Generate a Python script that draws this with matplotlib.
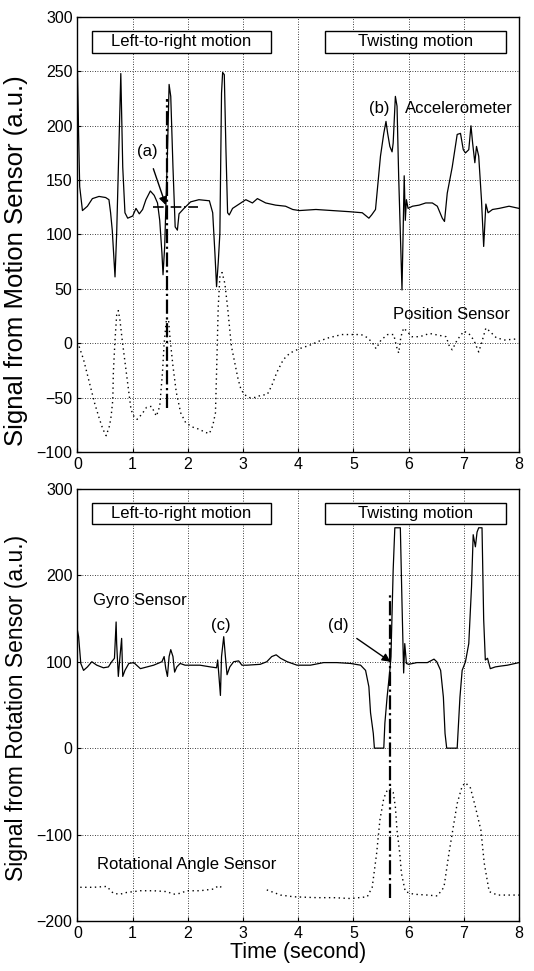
import numpy as np
import matplotlib
matplotlib.use("Agg")
import matplotlib.pyplot as plt
from matplotlib.patches import Rectangle

plt.rcParams['font.family'] = ['Liberation Sans', 'DejaVu Sans']

# accelerometer (top panel, solid)
acc_t = [0, 0.02, 0.04, 0.09, 0.18, 0.27, 0.39, 0.51, 0.57, 0.60, 0.63, 0.68, 0.71, 0.785, 0.82, 0.86, 0.91,
         1.0, 1.06, 1.12, 1.18, 1.24, 1.32, 1.39, 1.45, 1.49, 1.53, 1.55, 1.58, 1.63, 1.66, 1.69, 1.73, 1.77,
         1.81, 1.84, 1.93, 2.05, 2.2, 2.39, 2.45, 2.49, 2.52, 2.55, 2.58, 2.61, 2.63, 2.66, 2.69, 2.72, 2.75,
         2.81, 2.93, 3.05, 3.17, 3.26, 3.41, 3.59, 3.77, 3.9, 4.02, 4.32, 4.62, 4.92, 5.16, 5.28, 5.33, 5.4,
         5.49, 5.55, 5.59, 5.62, 5.66, 5.70, 5.72, 5.76, 5.79, 5.82, 5.85, 5.88, 5.90, 5.92, 5.94, 5.96, 5.99,
         6.07, 6.19, 6.31, 6.43, 6.52, 6.61, 6.65, 6.7, 6.79, 6.88, 6.94, 6.99, 7.03, 7.09, 7.13, 7.16, 7.2,
         7.23, 7.27, 7.32, 7.36, 7.40, 7.44, 7.52, 7.64, 7.82, 8.0]
acc_v = [250, 193, 144, 122, 126, 133, 135, 134, 132, 120, 104, 61, 101, 248, 162, 120, 115,
         117, 124, 119, 123, 132, 140, 136, 129, 113, 83, 63, 89, 175, 238, 227, 162, 107,
         104, 119, 124, 130, 132, 131, 120, 83, 52, 74, 101, 230, 249, 247, 178, 120, 118,
         124, 128, 132, 129, 133, 129, 127, 126, 123, 122, 123, 122, 121, 120, 115, 118, 123,
         172, 193, 204, 193, 181, 176, 184, 227, 218, 153, 101, 49, 101, 154, 113, 132, 124,
         126, 127, 129, 129, 126, 115, 112, 138, 162, 192, 193, 178, 175, 178, 200, 184, 166,
         181, 172, 132, 89, 128, 120, 123, 124, 126, 124]

# position sensor (top panel, dotted)
pos_t = [0.03, 0.11, 0.2, 0.31, 0.4, 0.46, 0.52, 0.58, 0.61, 0.64, 0.65, 0.68, 0.71, 0.74, 0.77, 0.81, 0.84,
         0.87, 0.9, 0.93, 0.97, 1.02, 1.08, 1.17, 1.25, 1.34, 1.43, 1.49, 1.54, 1.57, 1.61, 1.65, 1.68, 1.73,
         1.79, 1.87, 1.96, 2.08, 2.2, 2.32, 2.39, 2.45, 2.5, 2.52, 2.55, 2.58, 2.62, 2.67, 2.72, 2.76, 2.79,
         2.85, 2.91, 2.96, 3.02, 3.11, 3.2, 3.32, 3.44, 3.52, 3.61, 3.73, 3.85, 4.02, 4.2, 4.38, 4.55, 4.79,
         4.97, 5.14, 5.26, 5.35, 5.41, 5.5, 5.62, 5.73, 5.78, 5.82, 5.86, 5.91, 5.97, 6.06, 6.2, 6.38, 6.68,
         6.74, 6.79, 6.88, 7.0, 7.09, 7.18, 7.27, 7.32, 7.4, 7.47, 7.59, 7.74, 7.97]
pos_v = [-3, -15, -33, -55, -70, -79, -85, -76, -67, -52, -27, 3, 26, 30, 21, 3, -9,
         -21, -33, -45, -61, -67, -70, -65, -59, -58, -67, -58, -27, 0, 21, 21, 3, -21,
         -45, -64, -73, -77, -79, -82, -83, -76, -64, -27, 33, 61, 65, 55, 33, 12, -3,
         -18, -33, -42, -47, -50, -50, -48, -47, -39, -27, -15, -9, -5, -2, 2, 5, 8,
         8, 8, 5, 0, -5, 3, 8, 8, -3, -9, 6, 14, 11, 6, 6, 9, 6,
         -3, -6, 3, 11, 9, 3, -8, 0, 14, 11, 5, 3, 4]

# gyro sensor (bottom panel, solid)
gyro_t = [0, 0.02, 0.06, 0.11, 0.18, 0.26, 0.35, 0.47, 0.56, 0.62, 0.67, 0.70, 0.71, 0.74, 0.77, 0.80, 0.82,
          0.86, 0.93, 1.02, 1.14, 1.26, 1.38, 1.53, 1.57, 1.6, 1.63, 1.66, 1.69, 1.73, 1.76, 1.80, 1.86,
          1.95, 2.04, 2.22, 2.41, 2.52, 2.54, 2.56, 2.59, 2.61, 2.65, 2.68, 2.71, 2.76, 2.83, 2.92, 2.98,
          3.07, 3.31, 3.43, 3.52, 3.6, 3.68, 3.8, 3.98, 4.22, 4.46, 4.70, 4.95, 5.13, 5.22, 5.28, 5.31, 5.36,
          5.38, 5.55, 5.57, 5.61, 5.66, 5.68, 5.72, 5.75, 5.85, 5.88, 5.91, 5.93, 5.96, 6.0, 6.15, 6.34,
          6.46, 6.51, 6.58, 6.63, 6.66, 6.69, 6.88, 6.93, 6.97, 7.03, 7.09, 7.14, 7.17, 7.21, 7.24, 7.27,
          7.33, 7.36, 7.39, 7.43, 7.48, 7.57, 7.67, 7.79, 8.0]
gyro_v = [136, 129, 98, 90, 94, 100, 96, 93, 94, 100, 104, 146, 121, 83, 106, 127, 83,
          90, 98, 99, 92, 94, 96, 100, 106, 92, 83, 106, 114, 106, 88, 94, 98,
          96, 96, 96, 94, 93, 102, 86, 61, 106, 129, 106, 85, 94, 100, 101, 96,
          96, 97, 100, 106, 108, 104, 100, 96, 96, 99, 99, 98, 96, 90, 71, 41, 17,
          0, 0, 29, 59, 90, 106, 206, 255, 255, 168, 87, 121, 98, 97, 99, 99,
          103, 100, 90, 59, 17, 0, 0, 59, 90, 100, 121, 187, 247, 233, 250, 255,
          255, 149, 102, 104, 92, 94, 95, 96, 99]

# rotational angle sensor (bottom panel, dotted)
rot_t = [0.05, 0.29, 0.53, 0.65, 0.77, 0.89, 1.14, 1.38, 1.62, 1.74, 1.86, 1.98, 2.22, 2.47, 2.56, 2.65,
         3.0, 3.43, 3.68, 3.92, 4.34, 4.64, 4.95, 5.25, 5.34, 5.42, 5.48, 5.55, 5.61, 5.67, 5.72, 5.76,
         5.79, 5.84, 5.87, 5.94, 6.09, 6.34, 6.52, 6.64, 6.73, 6.82, 6.88, 6.97, 7.03, 7.12, 7.21, 7.31,
         7.37, 7.46, 7.61, 7.79, 8.0]
rot_v = [-161, -161, -160, -168, -169, -167, -165, -165, -166, -169, -168, -165, -165, -163, -159, -163,
         np.nan, -164, -170, -172, -173, -173, -174, -172, -161, -122, -83, -58, -49, -47, -51, -68,
         -95, -122, -145, -166, -169, -170, -171, -161, -122, -87, -64, -44, -40, -46, -68, -95,
         -133, -166, -170, -170, -170]

box_labels = ['Left-to-right motion', 'Twisting motion']
box_x = [(0.26, 3.51), (4.48, 7.77)]


def style_axes(ax, ylim, yticks, ylabel, ylabel_size, ylabel_pos):
    ax.set_xlim(0, 8)
    ax.set_ylim(*ylim)
    ax.set_xticks(range(0, 9))
    ax.set_yticks(yticks)
    ax.grid(True, color='black', linestyle=(0, (1, 2)), linewidth=0.6)
    ax.tick_params(direction='in', length=3, labelsize=11.5, width=0.8)
    for s in ax.spines.values():
        s.set_linewidth(1.0)
    ax.set_ylabel(ylabel, fontsize=ylabel_size, labelpad=5)
    ax.yaxis.set_label_coords(-0.112, ylabel_pos)
    trans = ax.get_xaxis_transform()
    for lab, (x0, x1) in zip(box_labels, box_x):
        ax.add_patch(Rectangle((x0, 0.918), x1 - x0, 0.05, transform=trans,
                               facecolor='white', edgecolor='black', linewidth=1.0, zorder=4))
        ax.text((x0 + x1) / 2, 0.943, lab, transform=trans, ha='center', va='center',
                fontsize=12, zorder=5)


fig = plt.figure(figsize=(5.34, 9.71), dpi=100)
ax1 = fig.add_axes([0.1451, 0.5345, 0.8268, 0.448])
ax2 = fig.add_axes([0.1451, 0.0515, 0.8268, 0.445])

# top panel
style_axes(ax1, (-100, 300), range(-100, 301, 50), 'Signal from Motion Sensor (a.u.)', 18.5, 0.441)
ax1.plot(acc_t, acc_v, color='black', linewidth=0.9)
ax1.plot(pos_t, pos_v, color='black', linestyle=(0, (1, 2.5)), linewidth=1.0)
ax1.plot([1.62, 1.62], [-60, 225], color='black', linestyle='-.', linewidth=1.6)
ax1.plot([1.36, 2.19], [125, 125], color='black', linestyle='-.', linewidth=1.2)
ax1.annotate('(a)', xy=(1.6, 127), xytext=(1.27, 176), fontsize=12, ha='center', va='center',
             arrowprops=dict(arrowstyle='-|>', color='black', lw=1.0, shrinkA=5, shrinkB=0))
ax1.text(5.46, 216, '(b)', fontsize=12, ha='center', va='center')
ax1.text(5.94, 216, 'Accelerometer', fontsize=12, ha='left', va='center')
ax1.text(5.71, 26, 'Position Sensor', fontsize=12, ha='left', va='center')

# bottom panel
style_axes(ax2, (-200, 300), range(-200, 301, 100), 'Signal from Rotation Sensor (a.u.)', 16.5, 0.493)
ax2.plot(gyro_t, gyro_v, color='black', linewidth=0.9)
ax2.plot(rot_t, rot_v, color='black', linestyle=(0, (1, 2.5)), linewidth=1.0)
ax2.plot([5.66, 5.66], [-173, 181], color='black', linestyle='-.', linewidth=1.6)
ax2.annotate('(d)', xy=(5.67, 100), xytext=(4.72, 142), fontsize=12, ha='center', va='center',
             arrowprops=dict(arrowstyle='-|>', color='black', lw=1.0, shrinkA=5, shrinkB=0))
ax2.text(2.6, 142, '(c)', fontsize=12, ha='center', va='center')
ax2.text(0.28, 171, 'Gyro Sensor', fontsize=12, ha='left', va='center')
ax2.text(0.36, -135, 'Rotational Angle Sensor', fontsize=12, ha='left', va='center')
ax2.set_xlabel('Time (second)', fontsize=15.5, labelpad=1)

fig.savefig('out.png', dpi=100)
